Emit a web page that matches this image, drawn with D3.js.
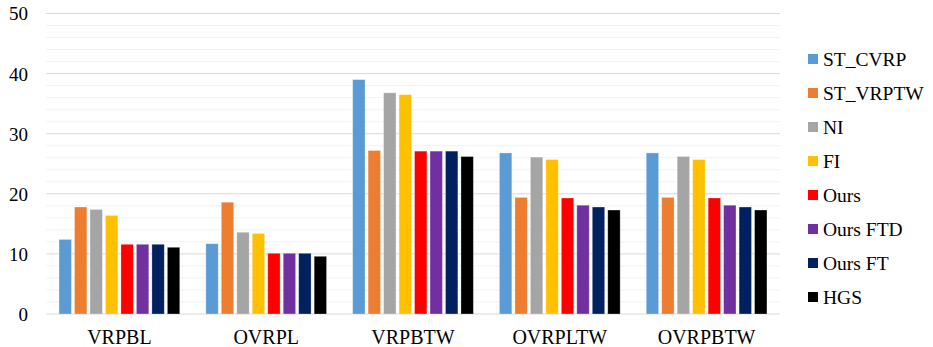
<!DOCTYPE html>
<html><head><meta charset="utf-8">
<script src="https://cdn.jsdelivr.net/npm/d3@7"></script>
<style>body{margin:0;background:#fff}svg{display:block}svg text{font-family:"Liberation Serif","Times New Roman",serif !important;}</style>
</head><body>
<script>
const categories = ["VRPBL","OVRPL","VRPBTW","OVRPLTW","OVRPBTW"];
const seriesNames = ["ST_CVRP","ST_VRPTW","NI","FI","Ours","Ours FTD","Ours FT","HGS"];
const colors = ["#5B9BD5","#ED7D31","#A5A5A5","#FFC000","#FF0000","#7030A0","#002060","#000000"];
const ST_CVRP  = [12.4, 11.7, 39.0, 26.8, 26.8];
const ST_VRPTW = [17.8, 18.6, 27.2, 19.4, 19.4];
const NI       = [17.4, 13.6, 36.8, 26.1, 26.2];
const FI       = [16.4, 13.4, 36.5, 25.7, 25.7];
const Ours     = [11.6, 10.1, 27.1, 19.3, 19.3];
const OursFTD  = [11.6, 10.1, 27.1, 18.1, 18.1];
const OursFT   = [11.6, 10.1, 27.1, 17.8, 17.8];
const HGS      = [11.1,  9.6, 26.2, 17.3, 17.3];
const seriesValues = [ST_CVRP, ST_VRPTW, NI, FI, Ours, OursFTD, OursFT, HGS];
const yTicks = [0,10,20,30,40,50];
const minorTicks = d3.range(0, 51, 2);

const W = 933, H = 347;
const svg = d3.select("body").append("svg").attr("width", W).attr("height", H);

const x0 = d3.scaleBand().domain(categories).range([46, 780]).paddingInner(0).paddingOuter(0);
const x1 = d3.scaleBand().domain(seriesNames).range([11.5, x0.bandwidth() - 11.5]).paddingInner(0.2).paddingOuter(0.1);
const y = d3.scaleLinear().domain([0, 50]).range([314, 13.5]);

// minor grid
svg.append("g").selectAll("line").data(minorTicks.filter(d => d % 10 !== 0)).join("line")
  .attr("x1", 46).attr("x2", 780).attr("y1", d => y(d)).attr("y2", d => y(d))
  .attr("stroke", "#F2F2F2").attr("stroke-width", 1);
// major grid
svg.append("g").selectAll("line").data(yTicks).join("line")
  .attr("x1", 46).attr("x2", 780).attr("y1", d => y(d)).attr("y2", d => y(d))
  .attr("stroke", "#D9D9D9").attr("stroke-width", 1);

// y axis labels
const yAxis = d3.axisLeft(y).tickValues(yTicks).tickSize(0).tickPadding(0);
const ya = svg.append("g").attr("transform", "translate(28,0)").call(yAxis);
ya.select(".domain").remove();
ya.selectAll("text").attr("font-size", 19).attr("fill", "#000").attr("dy", "0.34em");

// bars
const groups = svg.append("g").selectAll("g").data(categories).join("g")
  .attr("transform", d => `translate(${x0(d)},0)`);
groups.selectAll("rect").data((c, ci) => seriesNames.map((s, si) => ({s, si, v: seriesValues[si][ci]}))).join("rect")
  .attr("x", d => x1(d.s)).attr("width", x1.bandwidth())
  .attr("y", d => y(d.v)).attr("height", d => y(0) - y(d.v))
  .attr("fill", d => colors[d.si])
  .attr("stroke", "rgba(255,255,255,0.35)").attr("stroke-width", 0.8);

// x axis
const xAxis = d3.axisBottom(x0).tickSize(0).tickPadding(0);
const xa = svg.append("g").attr("transform", "translate(0,314)").call(xAxis);
xa.select(".domain").remove();
xa.selectAll("text").attr("font-size", 20).attr("fill", "#000").attr("dy", "0").attr("y", 30);

// legend
const lg = svg.append("g").selectAll("g").data(seriesNames).join("g")
  .attr("transform", (d, i) => `translate(808,${59 + i * 34})`);
lg.append("rect").attr("x", 0).attr("y", -5).attr("width", 10).attr("height", 10).attr("fill", (d, i) => colors[i]);
lg.append("text").attr("x", 15).attr("y", 0).attr("dy", "0.35em").text(d => d)
  .attr("font-size", 19.5).attr("fill", "#000");
</script>
</body></html>
